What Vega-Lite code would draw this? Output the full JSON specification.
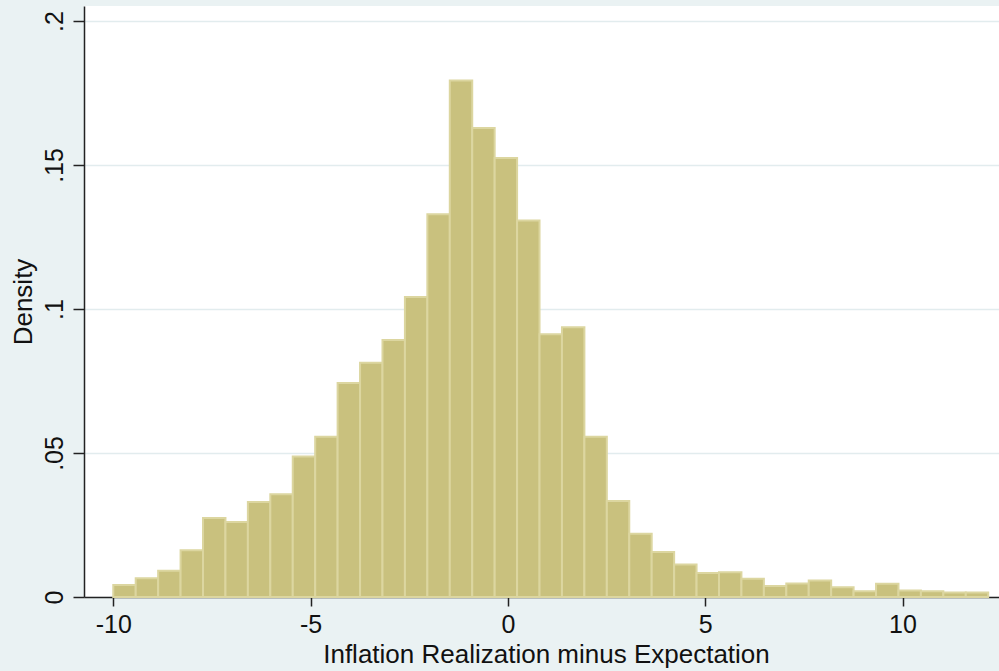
{
  "$schema": "https://vega.github.io/schema/vega-lite/v6.json",
  "width": 915,
  "height": 591,
  "autosize": {"type": "none"},
  "padding": {"left": 84, "top": 6, "right": 0, "bottom": 74},
  "background": "#EAF2F3",
  "config": {"view": {"fill": "white", "stroke": null}, "font": "Liberation Sans"},
  "data": {
    "values": [
      {"start": -10, "end": -9.4315, "density": 0.0042},
      {"start": -9.4315, "end": -8.863, "density": 0.0065},
      {"start": -8.863, "end": -8.2945, "density": 0.0091},
      {"start": -8.2945, "end": -7.726, "density": 0.0162},
      {"start": -7.726, "end": -7.1575, "density": 0.0274},
      {"start": -7.1575, "end": -6.589, "density": 0.0260},
      {"start": -6.589, "end": -6.0205, "density": 0.0330},
      {"start": -6.0205, "end": -5.452, "density": 0.0357},
      {"start": -5.452, "end": -4.8835, "density": 0.0488},
      {"start": -4.8835, "end": -4.315, "density": 0.0556},
      {"start": -4.315, "end": -3.7465, "density": 0.0743},
      {"start": -3.7465, "end": -3.178, "density": 0.0813},
      {"start": -3.178, "end": -2.6095, "density": 0.0892},
      {"start": -2.6095, "end": -2.041, "density": 0.1042},
      {"start": -2.041, "end": -1.4725, "density": 0.1329},
      {"start": -1.4725, "end": -0.904, "density": 0.1793},
      {"start": -0.904, "end": -0.3355, "density": 0.1628},
      {"start": -0.3355, "end": 0.233, "density": 0.1524},
      {"start": 0.233, "end": 0.8015, "density": 0.1307},
      {"start": 0.8015, "end": 1.37, "density": 0.0912},
      {"start": 1.37, "end": 1.9385, "density": 0.0937},
      {"start": 1.9385, "end": 2.507, "density": 0.0556},
      {"start": 2.507, "end": 3.0755, "density": 0.0333},
      {"start": 3.0755, "end": 3.644, "density": 0.0220},
      {"start": 3.644, "end": 4.2125, "density": 0.0156},
      {"start": 4.2125, "end": 4.781, "density": 0.0113},
      {"start": 4.781, "end": 5.3495, "density": 0.0083},
      {"start": 5.3495, "end": 5.918, "density": 0.0086},
      {"start": 5.918, "end": 6.4865, "density": 0.0063},
      {"start": 6.4865, "end": 7.055, "density": 0.0038},
      {"start": 7.055, "end": 7.6235, "density": 0.0047},
      {"start": 7.6235, "end": 8.192, "density": 0.0057},
      {"start": 8.192, "end": 8.7605, "density": 0.0034},
      {"start": 8.7605, "end": 9.329, "density": 0.0020},
      {"start": 9.329, "end": 9.8975, "density": 0.0046},
      {"start": 9.8975, "end": 10.466, "density": 0.0023},
      {"start": 10.466, "end": 11.0345, "density": 0.0020},
      {"start": 11.0345, "end": 11.603, "density": 0.0016},
      {"start": 11.603, "end": 12.1715, "density": 0.0016}
    ]
  },
  "mark": {"type": "rect", "fill": "#C9C17E", "stroke": "#DCD6A0", "strokeWidth": 2},
  "encoding": {
    "x": {
      "field": "start",
      "type": "quantitative",
      "scale": {"domain": [-10.742, 12.445], "nice": false, "zero": false},
      "axis": {
        "values": [-10, -5, 0, 5, 10],
        "labelExpr": "'' + datum.value",
        "title": "Inflation Realization minus Expectation",
        "grid": false,
        "domainColor": "#222222",
        "domainWidth": 1.5,
        "tickColor": "#222222",
        "tickWidth": 1.5,
        "tickSize": 9,
        "labelFontSize": 25,
        "labelColor": "#111111",
        "labelPadding": 6,
        "labelFlush": false,
        "labelOverlap": false,
        "titleFontSize": 26,
        "titleFontWeight": "normal",
        "titleColor": "#111111",
        "titleX": 462,
        "titleY": 65,
        "titleAlign": "center",
        "titleBaseline": "alphabetic"
      }
    },
    "x2": {"field": "end"},
    "y": {
      "field": "density",
      "type": "quantitative",
      "scale": {"domain": [0, 0.2052], "nice": false},
      "axis": {
        "values": [0, 0.05, 0.1, 0.15, 0.2],
        "labelExpr": "datum.value == 0 ? '0' : substring(format(datum.value, '.2~f'), 1)",
        "title": "Density",
        "grid": true,
        "gridColor": "#E2ECEE",
        "gridWidth": 1.5,
        "domainColor": "#222222",
        "domainWidth": 1.5,
        "tickColor": "#222222",
        "tickWidth": 1.5,
        "tickSize": 11,
        "labelFontSize": 25,
        "labelColor": "#111111",
        "labelAngle": -90,
        "labelAlign": "center",
        "labelBaseline": "alphabetic",
        "labelPadding": 11,
        "labelOverlap": false,
        "labelFlush": false,
        "titleFontSize": 26,
        "titleFontWeight": "normal",
        "titleColor": "#111111",
        "titleX": -53,
        "titleBaseline": "alphabetic"
      }
    },
    "y2": {"datum": 0}
  }
}
